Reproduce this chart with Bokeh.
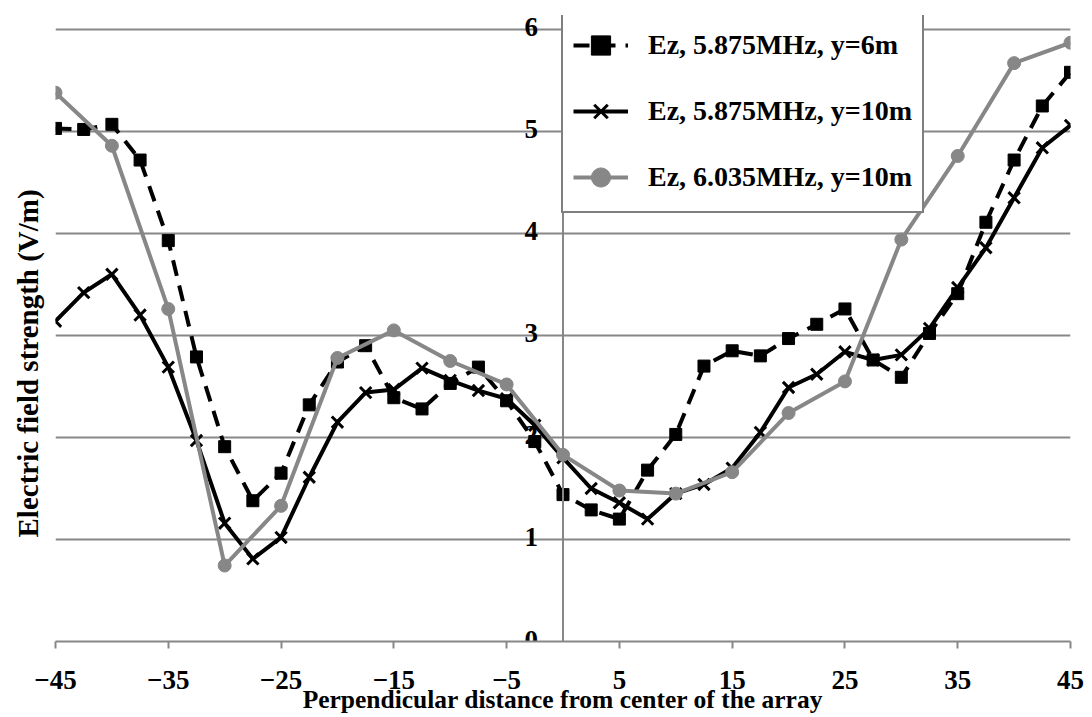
from bokeh.plotting import figure
from bokeh.models import ColumnDataSource, Range1d, FixedTicker, Span, Title
from bokeh.core.properties import value
from bokeh.embed import file_html
from bokeh.resources import INLINE

# ---- data ----
x_fine = [-45, -42.5, -40, -37.5, -35, -32.5, -30, -27.5, -25, -22.5, -20, -17.5,
          -15, -12.5, -10, -7.5, -5, -2.5, 0, 2.5, 5, 7.5, 10, 12.5, 15, 17.5,
          20, 22.5, 25, 27.5, 30, 32.5, 35, 37.5, 40, 42.5, 45]
ez_5875_y6 = [5.03, 5.02, 5.07, 4.72, 3.93, 2.79, 1.91, 1.38, 1.65, 2.32, 2.74, 2.90,
              2.39, 2.28, 2.53, 2.69, 2.36, 1.96, 1.44, 1.29, 1.20, 1.68, 2.03, 2.70,
              2.85, 2.80, 2.97, 3.11, 3.26, 2.76, 2.59, 3.02, 3.41, 4.11, 4.72, 5.25, 5.58]
ez_5875_y10 = [3.14, 3.42, 3.60, 3.20, 2.69, 1.97, 1.16, 0.81, 1.02, 1.61, 2.15, 2.44,
               2.47, 2.68, 2.56, 2.46, 2.38, 2.12, 1.80, 1.50, 1.36, 1.20, 1.45, 1.54,
               1.70, 2.05, 2.49, 2.62, 2.84, 2.76, 2.81, 3.07, 3.47, 3.86, 4.35, 4.84, 5.06]
x_coarse = [-45, -40, -35, -30, -25, -20, -15, -10, -5, 0, 5, 10, 15, 20, 25, 30, 35, 40, 45]
ez_6035_y10 = [5.38, 4.86, 3.26, 0.745, 1.33, 2.78, 3.05, 2.75, 2.52, 1.83, 1.48, 1.45,
               1.66, 2.24, 2.55, 3.94, 4.76, 5.67, 5.87]

series_labels = ["Ez, 5.875MHz, y=6m", "Ez, 5.875MHz, y=10m", "Ez, 6.035MHz, y=10m"]
x_ticks = [-45, -35, -25, -15, -5, 5, 15, 25, 35, 45]
y_ticks = [0, 1, 2, 3, 4, 5, 6]
y_tick_labels = ["0", "1", "2", "3", "4", "5", "6"]
x_title = "Perpendicular distance from center of the array"
y_title = "Electric field strength (V/m)"

FONT = "Liberation Serif"
GRAY = "#878787"

p = figure(width=1092, height=717, output_backend="svg", toolbar_location=None,
           x_range=Range1d(-45, 45), y_range=Range1d(0, 6.137),
           min_border_left=55, min_border_right=22, min_border_top=15,
           min_border_bottom=76)
p.outline_line_color = None
p.background_fill_color = "white"
p.border_fill_color = "white"

# axes
p.yaxis.visible = False
xa = p.xaxis[0]
xa.ticker = FixedTicker(ticks=x_ticks)
xa.axis_line_color = GRAY
xa.axis_line_width = 2
xa.major_tick_line_color = GRAY
xa.major_tick_line_width = 2
xa.major_tick_in = 0
xa.major_tick_out = 7
xa.minor_tick_line_color = None
xa.major_label_text_font = FONT
xa.major_label_text_font_style = "bold"
xa.major_label_text_font_size = "27px"
xa.major_label_text_color = "black"
xa.major_label_standoff = 22
xa.axis_label = x_title
xa.axis_label_text_font = FONT
xa.axis_label_text_font_style = "bold"
xa.axis_label_text_font_size = "25.5px"
xa.axis_label_text_color = "black"
xa.axis_label_standoff = -7

p.xgrid.visible = False
p.ygrid.ticker = FixedTicker(ticks=y_ticks[1:])
p.ygrid.grid_line_color = GRAY
p.ygrid.grid_line_width = 2

p.add_layout(Span(location=0, dimension="height", line_color=GRAY, line_width=2))

# y title on the left
p.add_layout(Title(text=y_title, align="left", offset=104, vertical_align="top",
                   text_font=FONT, text_font_style="bold", text_font_size="29px",
                   text_color="black", standoff=20), "left")

# y tick labels next to the central vertical axis (drawn beneath the data)
tick_src = ColumnDataSource(dict(x=[0] * len(y_ticks), y=y_ticks, t=y_tick_labels))
p.text(x="x", y="y", text="t", source=tick_src, x_offset=-25, y_offset=-2,
       text_align="right", text_baseline="middle",
       text_font=value(FONT), text_font_style="bold", text_font_size="27px",
       text_color="black")

# series
s1 = ColumnDataSource(dict(x=x_fine, y=ez_5875_y6))
s2 = ColumnDataSource(dict(x=x_fine, y=ez_5875_y10))
s3 = ColumnDataSource(dict(x=x_coarse, y=ez_6035_y10))

p.line("x", "y", source=s1, line_color="black", line_width=4, line_dash="16 10",
       legend_label=series_labels[0])
p.scatter("x", "y", source=s1, marker="square", size=12, fill_color="black",
          line_color="black", legend_label=series_labels[0])

p.line("x", "y", source=s2, line_color="black", line_width=4,
       legend_label=series_labels[1])
p.scatter("x", "y", source=s2, marker="x", size=16, line_color="black", line_width=3,
          legend_label=series_labels[1])

p.line("x", "y", source=s3, line_color=GRAY, line_width=4,
       legend_label=series_labels[2])
p.scatter("x", "y", source=s3, marker="circle", size=13, fill_color=GRAY,
          line_color=GRAY, legend_label=series_labels[2])

# legend
lg = p.legend[0]
lg.location = (506, 428)
lg.border_line_color = "black"
lg.border_line_width = 2
lg.background_fill_color = "white"
lg.background_fill_alpha = 1
lg.label_text_font = FONT
lg.label_text_font_style = "bold"
lg.label_text_font_size = "28px"
lg.label_text_color = "black"
lg.glyph_width = 55
lg.glyph_height = 48
lg.label_height = 48
lg.label_standoff = 20
lg.spacing = 18
lg.padding = 10
lg.margin = 0

open("out.html", "w").write(file_html(p, INLINE))
